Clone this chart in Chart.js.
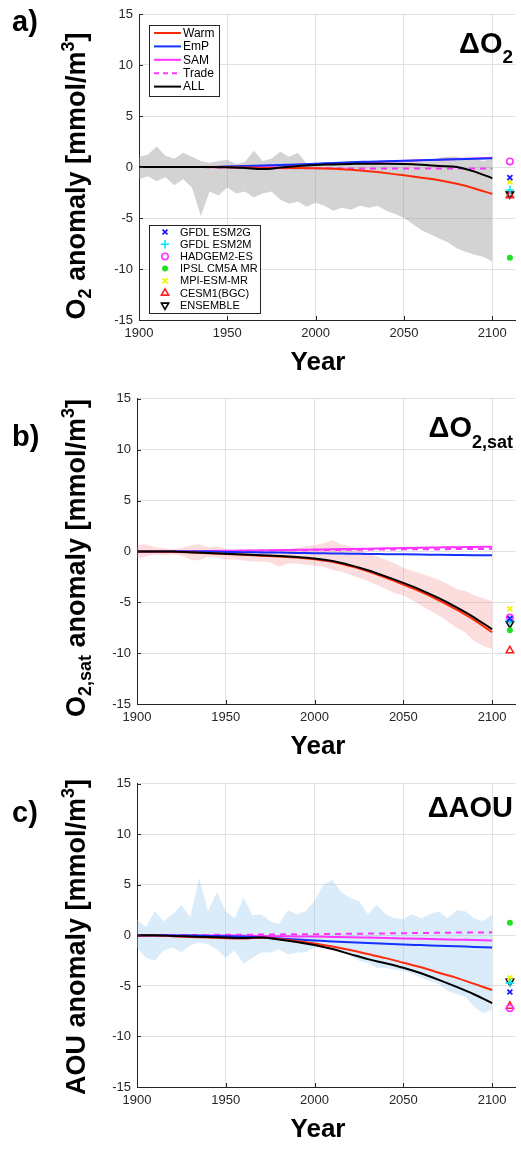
<!DOCTYPE html>
<html>
<head>
<meta charset="utf-8">
<script src="https://cdn.jsdelivr.net/npm/chart.js@4.4.0/dist/chart.umd.min.js"></script>
<style>
  body { margin: 0; background: #fff; width: 521px; height: 1152px; overflow: hidden; position: relative; }
  canvas { position: absolute; left: 0; }
</style>
</head>
<body>
<canvas id="panelA" width="521" height="385" style="top:0px"></canvas>
<canvas id="panelB" width="521" height="385" style="top:385px"></canvas>
<canvas id="panelC" width="521" height="382" style="top:770px"></canvas>
<script>
// ---- data ----
const LINE_YEARS = [1900, 1910, 1920, 1930, 1940, 1950, 1960, 1970, 1980, 1990, 2000,
  2010, 2020, 2030, 2040, 2050, 2060, 2070, 2080, 2090, 2100];
const ENV_YEARS = [1900, 1905, 1910, 1915, 1920, 1925, 1930, 1935, 1940, 1945, 1950,
  1955, 1960, 1965, 1970, 1975, 1980, 1985, 1990, 1995, 2000, 2005, 2010, 2015, 2020,
  2025, 2030, 2035, 2040, 2045, 2050, 2055, 2060, 2065, 2070, 2075, 2080, 2085, 2090, 2095, 2100];
const X_TICKS = [1900, 1950, 2000, 2050, 2100];
const Y_TICKS = [-15, -10, -5, 0, 5, 10, 15];
const SCENARIOS = ['Warm', 'EmP', 'SAM', 'Trade', 'ALL'];
const MODELS = ['GFDL ESM2G', 'GFDL ESM2M', 'HADGEM2-ES', 'IPSL CM5A MR', 'MPI-ESM-MR', 'CESM1(BGC)', 'ENSEMBLE'];
const MODEL_YEAR = 2110;

// a) delta O2
const o2Warm  = [0, 0, 0, 0, 0, -0.02, -0.05, -0.1, -0.1, -0.1, -0.12, -0.18, -0.28, -0.42, -0.6, -0.82, -1.05, -1.3, -1.65, -2.1, -2.65];
const o2EmP   = [0, 0, 0, 0, 0, 0.05, 0.1, 0.15, 0.2, 0.25, 0.32, 0.4, 0.47, 0.52, 0.57, 0.62, 0.67, 0.72, 0.77, 0.8, 0.85];
const o2SAM   = [0, 0, 0, 0, 0, 0.02, 0.05, 0.1, 0.15, 0.2, 0.27, 0.33, 0.4, 0.47, 0.53, 0.6, 0.66, 0.72, 0.78, 0.84, 0.9];
const o2Trade = [0, 0, 0, 0, -0.02, -0.05, -0.08, -0.1, -0.12, -0.12, -0.12, -0.13, -0.14, -0.15, -0.15, -0.15, -0.15, -0.15, -0.15, -0.15, -0.15];
const o2All   = [0, 0, 0, 0, 0, -0.02, -0.1, -0.2, -0.05, 0.1, 0.2, 0.25, 0.3, 0.33, 0.33, 0.3, 0.22, 0.1, 0.0, -0.45, -1.1];
const o2EnvHi = [1.0, 1.2, 2.0, 1.1, 0.8, 1.4, 1.0, 0.6, 0.4, 0.6, 0.7, 0.3, 0.5, 1.6, 0.6, 0.8, 1.5, 1.0, 1.4, 0.3,
  0.3, 0.4, 0.4, 0.5, 0.6, 0.5, 0.5, 0.4, 0.4, 0.5, 0.5, 0.6, 0.5, 0.6, 0.9, 1.0, 1.0, 0.7, 0.8, 0.6, 0.8];
const o2EnvLo = [-1.2, -0.9, -1.4, -1.0, -1.8, -1.2, -2.0, -4.8, -2.4, -2.8, -2.0, -2.6, -2.4, -3.0, -2.6, -2.4, -3.2, -3.6, -3.4, -3.9,
  -3.5, -3.8, -4.3, -4.0, -4.2, -3.8, -4.0, -3.8, -4.3, -4.6, -5.0, -5.6, -6.2, -6.6, -7.0, -7.4, -8.0, -8.3, -8.6, -8.8, -9.3];
const o2Models = [-1.05, -2.25, 0.55, -8.9, -1.45, -2.8, -2.65];

// b) delta O2,sat
const satWarm  = [0, 0, -0.03, -0.1, -0.18, -0.26, -0.34, -0.42, -0.5, -0.6, -0.78, -1.03, -1.45, -1.95, -2.57, -3.25, -3.97, -4.8, -5.72, -6.75, -7.95];
const satEmP   = [0, 0, 0, 0, -0.02, -0.05, -0.08, -0.1, -0.12, -0.15, -0.17, -0.2, -0.22, -0.25, -0.27, -0.29, -0.31, -0.33, -0.35, -0.37, -0.38];
const satSAM   = [0, 0, 0, 0.02, 0.04, 0.06, 0.08, 0.1, 0.13, 0.15, 0.18, 0.21, 0.24, 0.27, 0.3, 0.33, 0.36, 0.39, 0.42, 0.44, 0.46];
const satTrade = [0, 0, 0, 0.01, 0.02, 0.04, 0.06, 0.08, 0.1, 0.11, 0.13, 0.14, 0.16, 0.17, 0.19, 0.2, 0.21, 0.22, 0.23, 0.24, 0.25];
const satAll   = [0, 0, -0.02, -0.08, -0.15, -0.22, -0.3, -0.38, -0.45, -0.55, -0.7, -0.95, -1.35, -1.85, -2.45, -3.1, -3.8, -4.6, -5.5, -6.5, -7.65];
const satEnvHi = [0.6, 0.7, 0.4, 0.3, 0.2, 0.3, 0.6, 0.7, 0.4, 0.5, 0.2, 0.1, 0.0, 0.1, -0.1, 0.0, 0.1, 0.2, 0.3, 0.5,
  0.6, 0.8, 1.1, 0.7, 0.5, 0.2, -0.2, -0.5, -0.8, -1.2, -1.6, -1.9, -2.2, -2.5, -2.8, -3.2, -3.7, -3.9, -4.3, -4.6, -4.9];
const satEnvLo = [-0.7, -0.5, -0.3, -0.4, -0.3, -0.4, -0.8, -0.9, -0.5, -0.6, -0.8, -0.8, -0.9, -1.0, -1.0, -1.1, -1.5, -1.2, -1.2, -1.3,
  -1.4, -1.5, -1.8, -2.0, -2.3, -2.6, -2.9, -3.3, -3.7, -4.1, -4.3, -4.8, -5.3, -5.8, -6.3, -6.9, -7.5, -8.0, -8.8, -9.3, -9.6];
const satModels = [-6.6, -6.8, -6.5, -7.75, -5.65, -9.75, -7.1];

// c) delta AOU
const aouWarm  = [0, 0, -0.08, -0.15, -0.2, -0.28, -0.3, -0.2, -0.35, -0.55, -0.8, -1.1, -1.45, -1.85, -2.25, -2.7, -3.15, -3.7, -4.2, -4.8, -5.4];
const aouEmP   = [0, 0, 0, -0.02, -0.05, -0.08, -0.12, -0.2, -0.3, -0.4, -0.5, -0.6, -0.68, -0.76, -0.83, -0.9, -0.96, -1.02, -1.08, -1.14, -1.2];
const aouSAM   = [0, 0, 0, 0, 0, -0.02, -0.04, -0.06, -0.08, -0.1, -0.12, -0.15, -0.18, -0.22, -0.26, -0.3, -0.34, -0.38, -0.42, -0.46, -0.5];
const aouTrade = [0, 0, 0.02, 0.04, 0.05, 0.06, 0.07, 0.08, 0.1, 0.11, 0.12, 0.14, 0.16, 0.18, 0.2, 0.22, 0.24, 0.26, 0.28, 0.29, 0.3];
const aouAll   = [0, 0.02, -0.05, -0.1, -0.15, -0.2, -0.25, -0.2, -0.4, -0.65, -0.95, -1.35, -1.85, -2.35, -2.75, -3.2, -3.75, -4.4, -5.1, -5.85, -6.7];
const aouEnvHi = [1.6, 0.8, 2.4, 1.4, 2.1, 3.0, 1.8, 5.7, 2.4, 4.3, 2.4, 1.7, 3.7, 2.0, 2.1, 1.4, 1.1, 2.5, 2.1, 2.4,
  3.4, 5.0, 5.5, 4.3, 3.7, 3.4, 2.1, 3.0, 2.1, 1.7, 1.6, 2.1, 1.7, 2.1, 2.4, 1.7, 2.5, 2.4, 1.7, 1.4, 2.1];
const aouEnvLo = [-1.2, -2.2, -2.5, -1.5, -1.2, -1.7, -1.0, -0.7, -0.9, -1.4, -2.2, -1.5, -2.8, -2.2, -1.7, -1.7, -1.4, -1.9, -1.7, -1.7,
  -1.2, -1.2, -1.3, -1.5, -2.0, -2.5, -2.7, -3.2, -3.2, -3.4, -3.5, -3.8, -4.2, -4.5, -4.8, -5.5, -5.8, -6.1, -7.1, -7.7, -7.3];
const aouModels = [-5.6, -4.7, -7.2, 1.25, -4.2, -7.0, -4.55];

// ---- styles ----
const FONT = 'Helvetica, Arial, "Liberation Sans", sans-serif';
const AXIS = '#262626';
const GRID = '#e1e1e1';
const lineStyle = {
  Warm:  { color: '#ff2a0a', dash: [], order: 2 },
  EmP:   { color: '#1432ff', dash: [], order: 3 },
  SAM:   { color: '#ff33ff', dash: [], order: 4 },
  Trade: { color: '#ff33ff', dash: [6, 5], order: 5 },
  ALL:   { color: '#000000', dash: [], order: 1 }
};
const markerStyle = [
  { style: 'crossRot', color: '#1a1aff', fill: false, r: 3.5, w: 1.8, rot: 0 },
  { style: 'cross', color: '#00e8ff', fill: false, r: 4.2, w: 1.6, rot: 0 },
  { style: 'circle', color: '#ff33ff', fill: false, r: 3.2, w: 1.6, rot: 0 },
  { style: 'circle', color: '#22e022', fill: true, r: 3, w: 0, rot: 0 },
  { style: 'crossRot', color: '#f2f200', fill: false, r: 3.5, w: 1.8, rot: 0 },
  { style: 'triangle', color: '#ff2020', fill: false, r: 4.2, w: 1.6, rot: 0 },
  { style: 'triangle', color: '#000000', fill: false, r: 4.2, w: 1.6, rot: 180 }
];

function runsWidth(ctx, runs) {
  let w = 0;
  for (const r of runs) { ctx.font = 'bold ' + r.s + 'px ' + FONT; w += ctx.measureText(r.t).width; }
  return w;
}
function drawRuns(ctx, runs, x, y, align, rot) {
  ctx.save();
  ctx.translate(x, y);
  if (rot) ctx.rotate(rot);
  const w = runsWidth(ctx, runs);
  let cx = align === 'center' ? -w / 2 : (align === 'right' ? -w : 0);
  ctx.textAlign = 'left';
  ctx.textBaseline = 'alphabetic';
  ctx.fillStyle = '#000';
  for (const r of runs) {
    ctx.font = 'bold ' + r.s + 'px ' + FONT;
    ctx.fillText(r.t, cx, r.dy || 0);
    cx += ctx.measureText(r.t).width;
  }
  ctx.restore();
}
function drawMarker(ctx, m, x, y) {
  ctx.save();
  ctx.strokeStyle = m.color;
  ctx.fillStyle = m.color;
  ctx.lineWidth = m.w;
  ctx.beginPath();
  if (m.style === 'circle') {
    ctx.arc(x, y, m.r, 0, Math.PI * 2);
    if (m.fill) ctx.fill(); else ctx.stroke();
  } else if (m.style === 'cross' || m.style === 'crossRot') {
    const a = m.style === 'cross' ? 0 : Math.PI / 4;
    for (let k = 0; k < 2; k++) {
      const ang = a + k * Math.PI / 2;
      const dx = Math.cos(ang) * m.r, dy = Math.sin(ang) * m.r;
      ctx.moveTo(x - dx, y - dy); ctx.lineTo(x + dx, y + dy);
    }
    ctx.stroke();
  } else {
    let rad = m.rot * Math.PI / 180;
    for (let k = 0; k < 3; k++) {
      const px = x + Math.sin(rad) * m.r, py = y - Math.cos(rad) * m.r;
      if (k === 0) ctx.moveTo(px, py); else ctx.lineTo(px, py);
      rad += Math.PI * 2 / 3;
    }
    ctx.closePath();
    ctx.stroke();
  }
  ctx.restore();
}

const decoPlugin = {
  id: 'deco',
  afterDraw(chart, args, o) {
    const ctx = chart.ctx;
    const area = chart.chartArea;
    const xs = chart.scales.x, ys = chart.scales.y;
    // inward tick marks
    ctx.save();
    ctx.strokeStyle = AXIS;
    ctx.lineWidth = 1;
    ctx.beginPath();
    X_TICKS.forEach(v => { const px = Math.round(xs.getPixelForValue(v)) + 0.5; ctx.moveTo(px, area.bottom); ctx.lineTo(px, area.bottom - 4); });
    Y_TICKS.forEach(v => { const py = Math.round(ys.getPixelForValue(v)) + 0.5; ctx.moveTo(area.left, py); ctx.lineTo(area.left + 4, py); });
    ctx.stroke();
    ctx.restore();

    drawRuns(ctx, [{ t: o.letter, s: 29 }], 12, o.letterY, 'left');
    drawRuns(ctx, o.yTitle, 85, o.yTitleY, 'center', -Math.PI / 2);
    drawRuns(ctx, [{ t: 'Year', s: 26 }], 318, o.yearY, 'center');
    drawRuns(ctx, o.tag, 513, o.tagY, 'right');

    if (o.legends) {
      ctx.save();
      // scenario legend
      ctx.fillStyle = '#fff';
      ctx.strokeStyle = AXIS;
      ctx.lineWidth = 1;
      ctx.fillRect(149.5, 25.5, 70, 71);
      ctx.strokeRect(149.5, 25.5, 70, 71);
      ctx.font = '12px ' + FONT;
      ctx.textBaseline = 'middle';
      SCENARIOS.forEach((name, i) => {
        const y = 33 + i * 13.4;
        const st = lineStyle[name];
        ctx.strokeStyle = st.color;
        ctx.lineWidth = 2;
        ctx.setLineDash(st.dash.length ? [5, 4] : []);
        ctx.beginPath(); ctx.moveTo(154, y); ctx.lineTo(181, y); ctx.stroke();
        ctx.setLineDash([]);
        ctx.fillStyle = '#000';
        ctx.fillText(name, 183, y + 0.5);
      });
      // model legend
      ctx.fillStyle = '#fff';
      ctx.strokeStyle = AXIS;
      ctx.lineWidth = 1;
      ctx.fillRect(149.5, 225.5, 111, 88);
      ctx.strokeRect(149.5, 225.5, 111, 88);
      ctx.font = '11px ' + FONT;
      MODELS.forEach((name, i) => {
        const y = 232 + i * 12.2;
        drawMarker(ctx, markerStyle[i], 165, y);
        ctx.fillStyle = '#000';
        ctx.fillText(name, 180, y + 0.5);
      });
      ctx.restore();
    }
  }
};

function makePanel(id, p) {
  const lines = { Warm: p.warm, EmP: p.emp, SAM: p.sam, Trade: p.trade, ALL: p.all };
  const datasets = [
    { data: ENV_YEARS.map((x, i) => ({ x, y: p.hi[i] })), borderWidth: 0, pointRadius: 0, tension: 0,
      fill: '+1', backgroundColor: p.fill, order: 10 },
    { data: ENV_YEARS.map((x, i) => ({ x, y: p.lo[i] })), borderWidth: 0, pointRadius: 0, tension: 0,
      fill: false, order: 10 }
  ];
  SCENARIOS.forEach(name => {
    const st = lineStyle[name];
    datasets.push({
      data: LINE_YEARS.map((x, i) => ({ x, y: lines[name][i] })),
      borderColor: st.color, borderWidth: 2, borderDash: st.dash, pointRadius: 0,
      cubicInterpolationMode: 'monotone', fill: false, order: st.order
    });
  });
  MODELS.forEach((name, i) => {
    const m = markerStyle[i];
    datasets.push({
      data: [{ x: MODEL_YEAR, y: p.models[i] }], showLine: false, clip: false, order: 0,
      pointStyle: m.style, pointRadius: m.r, pointBorderWidth: m.w, pointRotation: m.rot,
      pointBorderColor: m.color, pointBackgroundColor: m.fill ? m.color : 'rgba(0,0,0,0)'
    });
  });
  return new Chart(document.getElementById(id), {
    type: 'line',
    data: { datasets },
    plugins: [decoPlugin],
    options: {
      responsive: false, animation: false, devicePixelRatio: 1,
      layout: { padding: { top: p.top, left: 0, right: 0, bottom: 0 } },
      plugins: { legend: { display: false }, tooltip: { enabled: false }, deco: p.deco },
      scales: {
        x: {
          type: 'linear', min: 1900, max: 2113,
          afterBuildTicks: s => { s.ticks = X_TICKS.map(v => ({ value: v })); },
          afterFit: s => { s.height = p.xh; },
          ticks: { color: AXIS, font: { size: 13, family: FONT }, padding: 6, maxRotation: 0, callback: v => String(v) },
          grid: { color: GRID, drawTicks: false },
          border: { color: AXIS, width: 1 }
        },
        y: {
          min: -15, max: 15,
          afterBuildTicks: s => { s.ticks = Y_TICKS.map(v => ({ value: v })); },
          afterFit: s => { s.width = p.left; },
          ticks: { color: AXIS, font: { size: 13, family: FONT }, padding: 6, callback: v => String(v) },
          grid: { color: GRID, drawTicks: false },
          border: { color: AXIS, width: 1 }
        }
      }
    }
  });
}

makePanel('panelA', {
  warm: o2Warm, emp: o2EmP, sam: o2SAM, trade: o2Trade, all: o2All,
  hi: o2EnvHi, lo: o2EnvLo, models: o2Models, fill: 'rgba(150,150,150,0.42)',
  top: 14, left: 139, xh: 65,
  deco: {
    letter: 'a)', letterY: 31, yearY: 370, tagY: 53, legends: true, yTitleY: 176,
    yTitle: [{ t: 'O', s: 27 }, { t: '2', s: 18, dy: 6 }, { t: ' anomaly [mmol/m', s: 27 }, { t: '3', s: 18, dy: -11 }, { t: ']', s: 27 }],
    tag: [{ t: '\u0394O', s: 29 }, { t: '2', s: 19, dy: 10 }]
  }
});
makePanel('panelB', {
  warm: satWarm, emp: satEmP, sam: satSAM, trade: satTrade, all: satAll,
  hi: satEnvHi, lo: satEnvLo, models: satModels, fill: 'rgba(240,120,120,0.25)',
  top: 12, left: 137, xh: 66,
  deco: {
    letter: 'b)', letterY: 61, yearY: 369, tagY: 52, legends: false, yTitleY: 173,
    yTitle: [{ t: 'O', s: 27 }, { t: '2,sat', s: 18, dy: 6 }, { t: ' anomaly [mmol/m', s: 27 }, { t: '3', s: 18, dy: -11 }, { t: ']', s: 27 }],
    tag: [{ t: '\u0394O', s: 29 }, { t: '2,sat', s: 18, dy: 11 }]
  }
});
makePanel('panelC', {
  warm: aouWarm, emp: aouEmP, sam: aouSAM, trade: aouTrade, all: aouAll,
  hi: aouEnvHi, lo: aouEnvLo, models: aouModels, fill: 'rgba(150,200,240,0.35)',
  top: 12, left: 137, xh: 65,
  deco: {
    letter: 'c)', letterY: 52, yearY: 367, tagY: 47, legends: false, yTitleY: 167,
    yTitle: [{ t: 'AOU anomaly [mmol/m', s: 27 }, { t: '3', s: 18, dy: -11 }, { t: ']', s: 27 }],
    tag: [{ t: '\u0394AOU', s: 29 }]
  }
});
</script>
</body>
</html>
